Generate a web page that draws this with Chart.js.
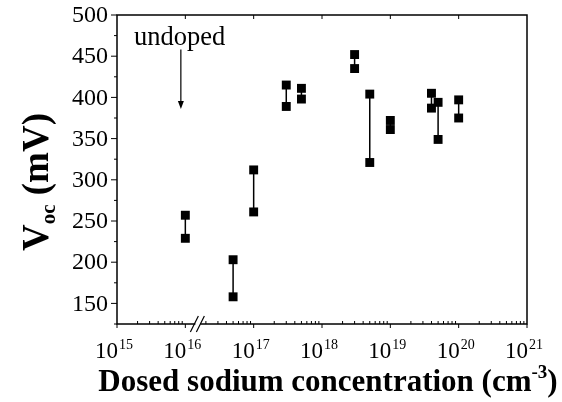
<!DOCTYPE html>
<html>
<head>
<meta charset="utf-8">
<script src="https://cdn.jsdelivr.net/npm/chart.js@4/dist/chart.umd.min.js"></script>
<style>
  html, body { margin: 0; padding: 0; background: #fff; }
  #wrap { width: 562px; height: 402px; }
</style>
</head>
<body>
<div id="wrap"><canvas id="chart" width="562" height="402"></canvas></div>
<script>
// Dosed Na concentration (cm^-3) and the two Voc values measured at each
const conc = [1e16, 5e16, 1e17, 3e17, 5e17, 3e18, 5e18, 1e19, 4e19, 5e19, 1e20];
const vocUpper = [257, 203, 312, 415, 411, 452, 404, 372, 405, 394, 397];
const vocLower = [229, 158, 261, 389, 398, 435, 321, 361, 387, 349, 375];

const xDecades = [1e15, 1e16, 1e17, 1e18, 1e19, 1e20, 1e21];
const xExponents = ['15', '16', '17', '18', '19', '20', '21'];
const yTicks = [150, 200, 250, 300, 350, 400, 450, 500];
const yMinorTicks = [125, 175, 225, 275, 325, 375, 425, 475];

const SERIF = '"Liberation Serif", "Times New Roman", serif';

function richText(ctx, parts, x, y, align) {
    let total = 0;
    parts.forEach(p => { ctx.font = p.font; total += ctx.measureText(p.t).width; });
    let cx = align === 'center' ? x - total / 2 : x;
    ctx.textAlign = 'left';
    ctx.textBaseline = 'alphabetic';
    parts.forEach(p => {
        ctx.font = p.font;
        ctx.fillText(p.t, cx, y + (p.dy || 0));
        cx += ctx.measureText(p.t).width;
    });
}

const framePlugin = {
    id: 'frame',
    afterDraw(chart) {
        const ctx = chart.ctx;
        const a = chart.chartArea;
        const xs = chart.scales.x, ys = chart.scales.y;
        ctx.save();
        ctx.strokeStyle = '#000';
        ctx.fillStyle = '#000';
        ctx.lineWidth = 1.5;
        ctx.strokeRect(a.left, a.top, a.right - a.left, a.bottom - a.top);

        ctx.lineWidth = 1;
        ctx.beginPath();
        // left axis ticks (outward)
        yTicks.forEach(v => { const y = ys.getPixelForValue(v); ctx.moveTo(a.left - 6, y); ctx.lineTo(a.left, y); });
        yMinorTicks.forEach(v => { const y = ys.getPixelForValue(v); ctx.moveTo(a.left - 3, y); ctx.lineTo(a.left, y); });
        // bottom and top axis ticks
        xDecades.forEach((d, i) => {
            const x = xs.getPixelForValue(d);
            ctx.moveTo(x, a.bottom); ctx.lineTo(x, a.bottom + 4);
            if (i > 0 && i < xDecades.length - 1) { ctx.moveTo(x, a.top); ctx.lineTo(x, a.top + 4); }
            if (i < xDecades.length - 1) {
                for (let k = 2; k <= 9; k++) {
                    const xm = xs.getPixelForValue(d * k);
                    ctx.moveTo(xm, a.bottom); ctx.lineTo(xm, a.bottom - 3);
                }
            }
        });
        ctx.stroke();

        // axis break
        const xb = xs.getPixelForValue(1.5e16);
        ctx.fillStyle = '#fff';
        ctx.fillRect(xb - 2, a.bottom - 2, 5, 4);
        ctx.fillStyle = '#000';
        ctx.lineWidth = 1.2;
        ctx.beginPath();
        [-3, 3].forEach(o => {
            ctx.moveTo(xb + o - 4, a.bottom + 8);
            ctx.lineTo(xb + o + 4, a.bottom - 8);
        });
        ctx.stroke();

        // y tick labels
        ctx.font = '24px ' + SERIF;
        ctx.textAlign = 'right';
        ctx.textBaseline = 'middle';
        yTicks.forEach(v => ctx.fillText(String(v), a.left - 9, ys.getPixelForValue(v) + 1));

        // x tick labels 10^n
        xDecades.forEach((d, i) => {
            const x = xs.getPixelForValue(d);
            ctx.textBaseline = 'alphabetic';
            ctx.font = '23px ' + SERIF;
            ctx.textAlign = 'right';
            ctx.fillText('10', x + 1, 358);
            ctx.font = '14px ' + SERIF;
            ctx.textAlign = 'left';
            ctx.fillText(xExponents[i], x + 2, 349);
        });

        // axis titles
        richText(ctx, [
            { t: 'Dosed sodium concentration (cm', font: 'bold 31px ' + SERIF },
            { t: '-3', font: 'bold 19px ' + SERIF, dy: -13 },
            { t: ')', font: 'bold 31px ' + SERIF }
        ], 328, 391, 'center');

        ctx.save();
        ctx.translate(48, 251);
        ctx.rotate(-Math.PI / 2);
        richText(ctx, [
            { t: 'V', font: 'bold 37px ' + SERIF },
            { t: 'oc', font: 'bold 21px ' + SERIF, dy: 7 },
            { t: ' (mV)', font: 'bold 37px ' + SERIF }
        ], 0, 0, 'left');
        ctx.restore();

        // "undoped" annotation with arrow
        const ax = xs.getPixelForValue(8.6e15);
        ctx.font = '26.5px ' + SERIF;
        ctx.textAlign = 'left';
        ctx.textBaseline = 'alphabetic';
        ctx.fillText('undoped', 134, 45);
        const y0 = ys.getPixelForValue(458), y1 = ys.getPixelForValue(386);
        ctx.lineWidth = 1.2;
        ctx.beginPath();
        ctx.moveTo(ax, y0); ctx.lineTo(ax, y1 - 6);
        ctx.stroke();
        ctx.beginPath();
        ctx.moveTo(ax - 3, y1 - 8); ctx.lineTo(ax + 3, y1 - 8); ctx.lineTo(ax, y1);
        ctx.closePath();
        ctx.fill();
        ctx.restore();
    }
};

const datasets = conc.map((c, i) => ({
    data: [{ x: c, y: vocUpper[i] }, { x: c, y: vocLower[i] }],
    showLine: true,
    borderColor: '#000',
    borderWidth: 1.5,
    backgroundColor: '#000',
    pointBackgroundColor: '#000',
    pointBorderColor: '#000',
    pointBorderWidth: 0,
    pointStyle: 'rect',
    pointRadius: 6.3
}));

new Chart(document.getElementById('chart'), {
    type: 'scatter',
    data: { datasets },
    options: {
        responsive: false,
        animation: false,
        events: [],
        layout: { padding: { left: 117, top: 15, right: 35, bottom: 78 } },
        plugins: { legend: { display: false }, tooltip: { enabled: false } },
        scales: {
            x: { type: 'logarithmic', min: 1e15, max: 1e21, display: false },
            y: { type: 'linear', min: 125, max: 500, display: false }
        }
    },
    plugins: [framePlugin]
});
</script>
</body>
</html>
